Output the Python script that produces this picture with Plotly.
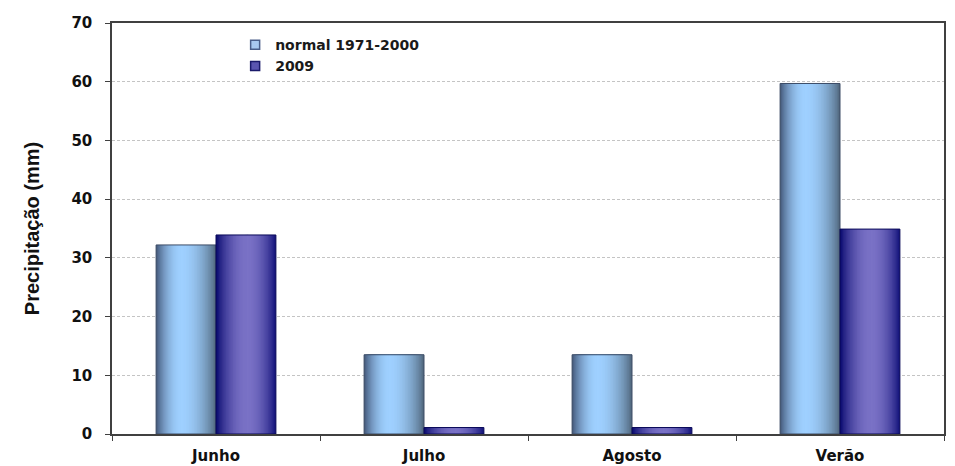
import math
import plotly.graph_objects as go

# Seasonal precipitation (mm): 1971-2000 normal vs. 2009
categories = ["Junho", "Julho", "Agosto", "Verão"]
normal_1971_2000 = [32.2, 13.5, 13.5, 59.7]
year_2009 = [33.9, 1.1, 1.1, 34.9]
series_names = ["normal 1971-2000", "2009"]
y_ticks = [0, 10, 20, 30, 40, 50, 60, 70]

BAR_W = 0.288  # bar width in category units


def hex_to_rgb(h):
    h = h.lstrip("#")
    return tuple(int(h[i:i + 2], 16) for i in (0, 2, 4))


def mix(c1, c2, f):
    a, b = hex_to_rgb(c1), hex_to_rgb(c2)
    return "rgb({},{},{})".format(*[round(a[i] + (b[i] - a[i]) * f) for i in range(3)])


def cylinder_traces(values, start, left_col, peak_col, right_col, peak_frac, outline):
    """Stack of overlaid bars giving a horizontal 'cylinder' shading."""
    traces = []
    n = 22
    L, R = start, start + BAR_W
    P = L + peak_frac * BAR_W
    eps = 0.004
    # left half: from outer edge towards the highlight
    for i in range(n):
        t = i / n
        x0 = L + t * (P - L)
        f = math.sin(t * math.pi / 2) ** 0.8
        traces.append(go.Bar(
            x=categories, y=values, offset=x0, width=(P + eps) - x0,
            marker=dict(color=mix(left_col, peak_col, f), line=dict(width=0)),
            showlegend=False, hoverinfo="skip"))
    # right half
    for i in range(n):
        t = i / n
        x1 = R - t * (R - P)
        f = math.sin(t * math.pi / 2) ** 0.8
        traces.append(go.Bar(
            x=categories, y=values, offset=P - eps, width=x1 - (P - eps),
            marker=dict(color=mix(right_col, peak_col, f), line=dict(width=0)),
            showlegend=False, hoverinfo="skip"))
    # thin dark outline
    traces.append(go.Bar(
        x=categories, y=values, offset=L, width=BAR_W,
        marker=dict(color="rgba(0,0,0,0)", line=dict(color=outline, width=1)),
        showlegend=False, hoverinfo="x+y"))
    return traces


fig = go.Figure()
for tr in cylinder_traces(normal_1971_2000, -BAR_W, "#44587a", "#9fd0ff", "#52687f", 0.42, "#3c4c66"):
    fig.add_trace(tr)
for tr in cylinder_traces(year_2009, 0.0, "#0a0a70", "#7a72c6", "#12127a", 0.52, "#0a0a58"):
    fig.add_trace(tr)

# legend entries
legend_styles = [("#a8c8f0", "#4a5e8a"), ("#5a55b0", "#1a1a6a")]
for name, (fc, lc) in zip(series_names, legend_styles):
    fig.add_trace(go.Scatter(
        x=[None], y=[None], mode="markers", name=name,
        marker=dict(symbol="square", size=9, color=fc, line=dict(color=lc, width=1.5))))

fig.update_layout(
    width=955, height=466,
    margin=dict(l=112, r=11, t=23, b=32),
    paper_bgcolor="white", plot_bgcolor="white",
    barmode="overlay",
    showlegend=True,
    legend=dict(
        x=0.148, y=0.985, xanchor="left", yanchor="top",
        bgcolor="rgba(0,0,0,0)", borderwidth=0,
        font=dict(family="DejaVu Sans", size=14, weight="bold", color="#1a1a1a"),
        tracegroupgap=0, itemwidth=30,
    ),
    xaxis=dict(
        type="category", categoryorder="array", categoryarray=categories,
        range=[-0.5, 3.5], automargin=False,
        tickson="boundaries", ticks="outside", ticklen=5, tickcolor="#404040",
        showline=True, linecolor="#404040", linewidth=1.5, mirror=True,
        showgrid=False,
        tickfont=dict(family="DejaVu Sans", size=15, weight="bold", color="#111111"),
        ticklabelstandoff=7,
    ),
    yaxis=dict(
        range=[0, 70], tickvals=y_ticks, automargin=False,
        ticks="outside", ticklen=5, tickcolor="#404040",
        showline=True, linecolor="#404040", linewidth=1.5, mirror=True,
        showgrid=True, gridcolor="#c4c4c4", gridwidth=1, griddash="3px,2px",
        zeroline=False,
        tickfont=dict(family="DejaVu Sans", size=15, weight="bold", color="#111111"),
        ticklabelstandoff=10,
        title=dict(text="Precipitação (mm)", standoff=26,
                   font=dict(family="Liberation Sans", size=20, weight="bold", color="#111111")),
    ),
)

fig.write_html("out.html")
